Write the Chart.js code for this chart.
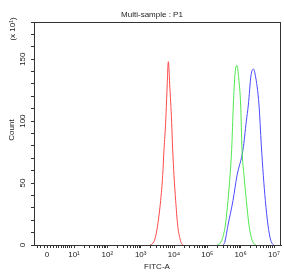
<!DOCTYPE html>
<html>
<head>
<meta charset="utf-8">
<script src="https://cdn.jsdelivr.net/npm/chart.js@4.4.1/dist/chart.umd.min.js"></script>
<style>
  html, body { margin: 0; padding: 0; background: #fff; }
  #wrap { width: 284px; height: 275px; }
</style>
</head>
<body>
<div id="wrap"><canvas id="flowChart" width="284" height="275"></canvas></div>
<script>
// x values are in decade units (log10 of FITC-A), y is count (x 10^1)
const redLog   = [3.28, 3.35, 3.43, 3.51, 3.60, 3.66, 3.70, 3.75, 3.79, 3.83, 3.87, 3.93, 3.96, 4.00, 4.05, 4.11, 4.18, 4.23, 4.28];
const redCount = [0,    1,    5,    16,   36,   56,   77,   99,   125,  148,  130,  99,   77,   56,   36,   16,   5,    1,    0];

const greenLog   = [5.30, 5.37, 5.45, 5.54, 5.62, 5.68, 5.73, 5.78, 5.83, 5.89, 5.94, 6.00, 6.04, 6.10, 6.17, 6.25, 6.33, 6.40, 6.46];
const greenCount = [0,    1,    5,    16,   36,   56,   77,   113,  138,  145,  135,  113,  77,   56,   36,   16,   5,    1,    0];

const blueLog   = [5.47, 5.52, 5.62, 5.77, 5.89, 6.07, 6.17, 6.23, 6.31, 6.385, 6.44, 6.55, 6.62, 6.68, 6.74, 6.82, 6.89, 6.95, 6.99];
const blueCount = [0,    2,    16,   36,   56,   77,   100,  113,  137,  142,   137,  113,  80,   56,   36,   16,   5,    1,    0];

// axis ticks
const xMajorPos    = [0.19, 1, 2, 3, 4, 5, 6, 7];
const xMajorLabels = ['0', '10¹', '10²', '10³', '10⁴', '10⁵', '10⁶', '10⁷'];
const xNearZeroMinor = [-0.10, 0.0, 0.10, 0.30, 0.38, 0.46, 0.54, 0.62, 0.68, 0.74, 0.80, 0.86, 0.92];
const yLabelStep = 50;
const yMinorStep = 10;

const xMinorPos = [...xNearZeroMinor];
for (let n = 1; n < 7; n++) {
    for (let k = 2; k <= 9; k++) xMinorPos.push(n + Math.log10(k));
}
const xAllTicks = [...xMajorPos, ...xMinorPos].sort((a, b) => a - b);

const toPoints = (xs, ys) => xs.map((x, i) => ({ x: x, y: ys[i] }));

const FONT = "'Liberation Sans', Arial, sans-serif";
const INK = '#333';

// title, exponent note, y title and plot frame
const decorPlugin = {
    id: 'decor',
    afterDraw(chart) {
        const ctx = chart.ctx;
        const a = chart.chartArea;
        ctx.save();
        ctx.strokeStyle = INK;
        ctx.lineWidth = 1;
        ctx.strokeRect(a.left + 0.5, a.top + 0.5, a.right - a.left - 1, a.bottom - a.top);

        ctx.fillStyle = '#222';
        ctx.font = '8px ' + FONT;
        ctx.textAlign = 'center';
        ctx.textBaseline = 'middle';
        ctx.fillText('Multi-sample : P1', 152, 15);
        ctx.fillText('FITC-A', 157, 267);

        ctx.translate(13, 29);
        ctx.rotate(-Math.PI / 2);
        ctx.fillText('(x 10¹)', 0, 0);
        ctx.restore();

        ctx.save();
        ctx.fillStyle = '#222';
        ctx.font = '8px ' + FONT;
        ctx.textAlign = 'center';
        ctx.textBaseline = 'middle';
        ctx.translate(12, 130);
        ctx.rotate(-Math.PI / 2);
        ctx.fillText('Count', 0, 0);
        ctx.restore();
    }
};

const line = (data, color) => ({
    data: data,
    borderColor: color,
    borderWidth: 1,
    pointRadius: 0,
    fill: false,
    tension: 0.4,
    cubicInterpolationMode: 'monotone'
});

new Chart(document.getElementById('flowChart').getContext('2d'), {
    type: 'line',
    data: {
        datasets: [
            line(toPoints(redLog, redCount), '#ff4a4a'),
            line(toPoints(greenLog, greenCount), '#4ee84e'),
            line(toPoints(blueLog, blueCount), '#4a4aff')
        ]
    },
    plugins: [decorPlugin],
    options: {
        responsive: false,
        animation: false,
        events: [],
        layout: { padding: { top: 22, right: 3, left: 0, bottom: 0 } },
        plugins: { legend: { display: false }, tooltip: { enabled: false } },
        scales: {
            x: {
                type: 'linear',
                min: -0.2,
                max: 7.21,
                afterBuildTicks: (scale) => { scale.ticks = xAllTicks.map(v => ({ value: v })); },
                afterFit: (scale) => { scale.height = 30; },
                grid: { drawOnChartArea: false, tickLength: 3, color: INK },
                border: { color: INK },
                ticks: {
                    autoSkip: false,
                    maxRotation: 0,
                    minRotation: 0,
                    padding: 2,
                    color: '#222',
                    font: { family: FONT, size: 8 },
                    callback: (v) => {
                        const i = xMajorPos.findIndex(p => Math.abs(p - v) < 1e-6);
                        return i >= 0 ? xMajorLabels[i] : '';
                    }
                }
            },
            y: {
                min: 0,
                max: 180,
                afterFit: (scale) => { scale.width = 34; },
                grid: { drawOnChartArea: false, tickLength: 3, color: INK },
                border: { color: INK },
                ticks: {
                    stepSize: yMinorStep,
                    autoSkip: false,
                    minRotation: 90,
                    maxRotation: 90,
                    crossAlign: 'center',
                    padding: 2,
                    color: '#222',
                    font: { family: FONT, size: 8 },
                    callback: (v) => (v % yLabelStep === 0 ? String(v) : '')
                }
            }
        }
    }
});
</script>
</body>
</html>
